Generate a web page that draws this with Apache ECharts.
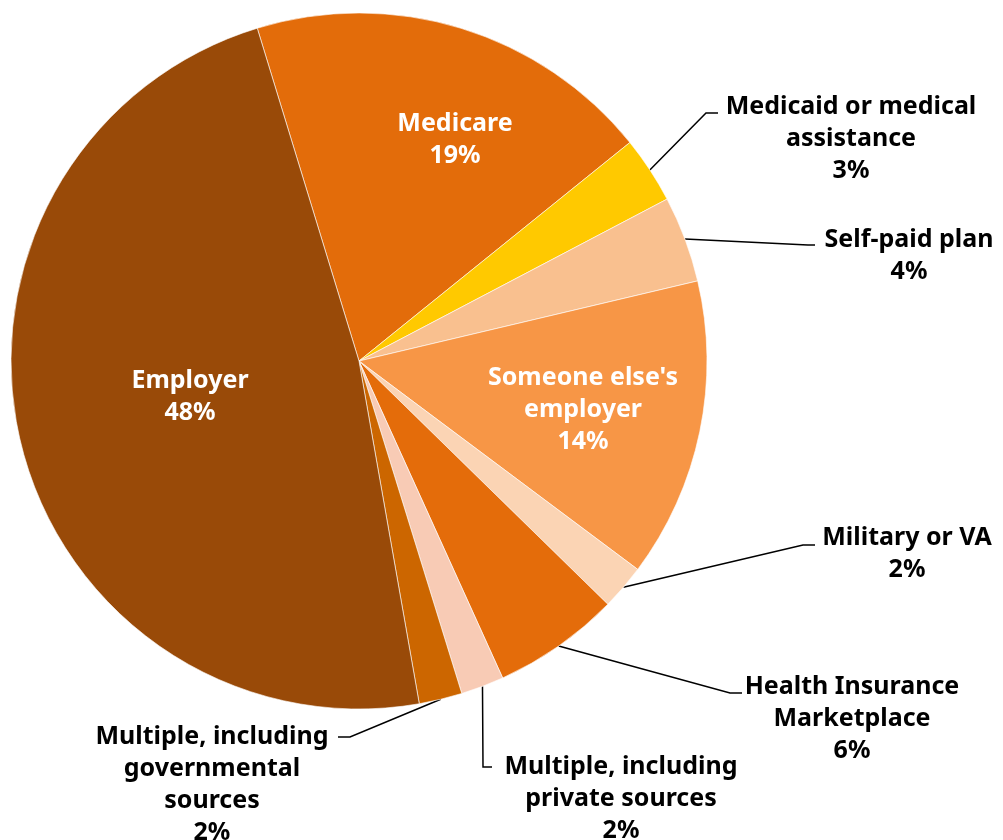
<!DOCTYPE html>
<html><head><meta charset="utf-8">
<script src="https://cdn.jsdelivr.net/npm/echarts@6/dist/echarts.min.js"></script>
<style>html,body{margin:0;padding:0;background:#fff}#c{width:1003px;height:840px}</style>
</head><body><div id="c"></div>
<script>
const categories = ['Medicare', 'Medicaid or medical\nassistance', 'Self-paid plan', "Someone else's\nemployer", 'Military or VA', 'Health Insurance\nMarketplace', 'Multiple, including\nprivate sources', 'Multiple, including\ngovernmental\nsources', 'Employer'];
const values = [18.9, 3.1, 4.0, 13.9, 2.1, 5.9, 2.0, 2.0, 48.0];
const colors = ['#E36C0A', '#FFC900', '#F9C08F', '#F79646', '#FBD4B4', '#E46C0A', '#F8CBB5', '#CC6600', '#994A08'];
const insideLabel = [true, false, false, true, false, false, false, false, true];
// label placement: [centerX, middleY, elbowX, elbowY, endX]
const labelPos = [
  [455, 140],
  [851, 139, 706, 113, 718],
  [909, 256, 808, 245, 815],
  [583, 410],
  [907, 554, 803, 545, 815],
  [852, 719, 730, 693, 742],
  [621, 799, 483, 767, 492],
  [212, 785, 350, 737, 338],
  [190, 397]
];
const FONT = '"Noto Sans", sans-serif';

const chart = echarts.init(document.getElementById('c'), null, {renderer: 'canvas'});
const data = categories.map((name, i) => ({
  name: name,
  value: values[i],
  itemStyle: {color: colors[i]},
  label: {
    position: insideLabel[i] ? 'inside' : 'outside',
    color: insideLabel[i] ? '#ffffff' : '#000000'
  },
  labelLine: {show: !insideLabel[i]}
}));

chart.setOption({
  backgroundColor: '#ffffff',
  animation: false,
  series: [{
    type: 'pie',
    center: [359, 361],
    radius: 348,
    startAngle: 107,
    clockwise: true,
    percentPrecision: 0,
    avoidLabelOverlap: false,
    itemStyle: {borderColor: '#ffffff', borderWidth: 0.6},
    emphasis: {disabled: true},
    label: {
      formatter: '{b}\n{d}%',
      fontFamily: FONT,
      fontWeight: 'bold',
      fontSize: 25,
      lineHeight: 32,
      align: 'center'
    },
    labelLine: {lineStyle: {color: '#000000', width: 1.5}},
    labelLayout: function (params) {
      const p = labelPos[params.dataIndex];
      const res = {x: p[0], y: p[1], align: 'center', verticalAlign: 'middle'};
      if (p.length > 2 && params.labelLinePoints) {
        res.labelLinePoints = [params.labelLinePoints[0], [p[2], p[3]], [p[4], p[3]]];
      }
      return res;
    },
    data: data
  }]
});
</script>
</body></html>
